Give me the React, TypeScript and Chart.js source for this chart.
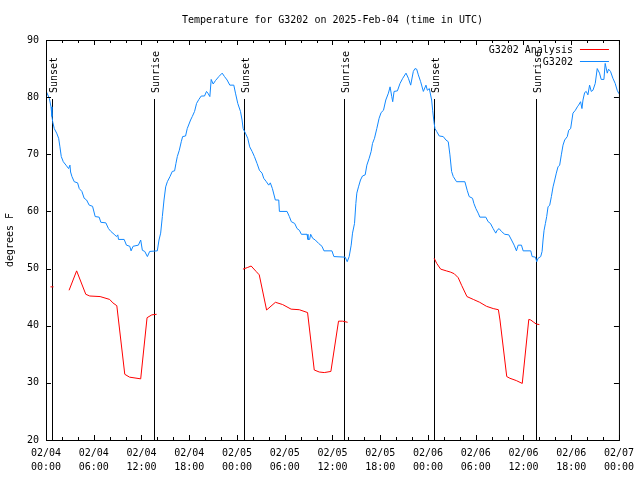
import React, { useEffect, useRef } from 'react';
import { Chart, registerables } from 'chart.js';

Chart.register(...registerables);

const FONT = '"DejaVu Sans Mono", "Liberation Mono", monospace';
const TITLE = 'Temperature for G3202 on 2025-Feb-04 (time in UTC)';
const Y_TITLE = 'degrees F';
const X_MIN = 0; // hours since 02/04 00:00 UTC
const X_MAX = 72;
const Y_MIN = 20;
const Y_MAX = 90;
const DAY_LABELS = ['02/04', '02/05', '02/06', '02/07'];

const OBS_LABEL = 'G3202';
const ANA_LABEL = 'G3202 Analysis';
const OBS_COLOR = 'rgb(16,136,255)';
const ANA_COLOR = '#ff0000';

// G3202 observations (hours since 02/04 00:00 UTC, deg F)
const obsHours = [
  0.0, 0.42, 0.63, 0.75, 0.84, 1.04, 1.34, 1.59, 1.75, 1.92, 2.17, 2.51, 2.84, 3.01, 3.09, 3.26, 3.55, 3.97,
  4.18, 4.51, 4.8, 5.1, 5.43, 5.85, 6.18, 6.68, 6.89, 7.52, 7.85, 8.15, 8.56, 8.86, 9.02, 9.11, 9.82, 10.11,
  10.53, 10.69, 10.94, 11.61, 11.9, 12.11, 12.41, 12.74, 13.03, 13.99, 14.2, 14.41, 14.62, 14.83, 15.04, 15.25,
  15.58, 15.87, 16.16, 16.33, 16.5, 16.75, 17.0, 17.17, 17.54, 17.75, 18.17, 18.38, 18.67, 18.92, 19.21, 19.51,
  19.92, 20.17, 20.34, 20.59, 20.76, 21.01, 21.3, 21.72, 22.14, 22.43, 22.76, 23.1, 23.6, 23.81, 24.1, 24.44,
  24.64, 24.77, 25.06, 25.35, 25.6, 25.9, 26.19, 26.52, 26.82, 27.15, 27.36, 27.69, 27.99, 28.19, 28.45, 28.82,
  29.25, 29.33, 30.29, 30.58, 30.83, 31.25, 31.55, 31.84, 32.09, 32.8, 32.92, 33.13, 33.26, 33.51, 33.84, 34.26,
  34.68, 34.93, 35.93, 36.18, 37.6, 37.85, 38.1, 38.35, 38.52, 38.77, 38.94, 39.06, 39.27, 39.52, 39.77, 40.11,
  40.32, 40.61, 40.86, 41.03, 41.28, 41.57, 41.86, 42.11, 42.41, 42.7, 43.03, 43.24, 43.45, 43.57, 43.74, 44.16,
  44.49, 44.83, 45.24, 45.54, 45.83, 46.16, 46.37, 46.58, 46.79, 47.08, 47.42, 47.75, 47.92, 48.17, 48.46, 48.59,
  48.75, 48.88, 49.09, 49.42, 49.92, 50.26, 50.55, 50.76, 50.97, 51.18, 51.59, 52.64, 52.93, 53.18, 53.6, 53.77,
  54.02, 54.31, 54.52, 55.27, 55.56, 55.85, 56.19, 56.52, 56.69, 56.94, 57.23, 57.65, 58.16, 58.5, 58.83, 59.12,
  59.33, 59.75, 59.96, 60.92, 61.09, 61.5, 61.67, 61.84, 62.17, 62.34, 62.46, 62.59, 62.76, 62.92, 63.09, 63.3,
  63.51, 63.72, 63.93, 64.13, 64.34, 64.55, 64.76, 64.97, 65.18, 65.51, 65.68, 65.93, 66.22, 66.52, 66.77, 66.93,
  67.18, 67.35, 67.48, 67.69, 67.89, 68.1, 68.31, 68.52, 68.73, 69.02, 69.27, 69.56, 69.77, 70.11, 70.27, 70.53,
  70.69, 70.94, 71.24, 71.53, 71.78, 72.0,
];
const obsTemps = [
  81.1, 79.8, 78.3, 76.6, 75.7, 74.5, 73.7, 72.8, 71.3, 69.6, 68.7, 68.1, 67.5, 68.1, 66.9, 66.1, 65.2, 65.0,
  64.0, 63.5, 62.3, 62.0, 61.1, 60.9, 59.1, 59.0, 58.1, 58.0, 57.0, 56.5, 56.0, 55.6, 55.9, 55.1, 55.1, 54.1,
  53.9, 53.1, 53.9, 54.1, 55.0, 53.2, 53.0, 52.1, 53.0, 53.1, 55.0, 56.2, 59.1, 62.0, 64.3, 65.2,
  66.1, 67.0, 67.1, 68.4, 69.6, 70.7, 72.2, 73.1, 73.2, 74.5, 76.0, 76.6, 77.5, 78.9, 79.6, 80.2,
  80.2, 81.0, 80.7, 80.1, 83.1, 82.3, 82.9, 83.6, 84.2, 83.6, 83.0, 82.1, 82.1, 80.7, 78.9, 77.5,
  76.0, 74.5, 73.7, 72.8, 71.3, 70.5, 69.6, 68.4, 67.2, 66.7, 65.8, 65.2, 64.6, 65.0, 64.0, 62.0,
  62.0, 60.0, 60.0, 59.1, 58.2, 57.9, 57.0, 56.7, 56.0, 56.0, 55.1, 55.1, 56.0, 55.3, 55.0, 54.4,
  53.9, 53.1, 53.1, 52.1, 52.0, 51.2, 52.1, 54.1, 56.2, 57.9, 61.4, 63.2, 64.3, 65.5, 66.2, 66.4,
  68.1, 69.3, 70.5, 71.9, 72.8, 74.5, 76.3, 77.3, 77.7, 79.5, 80.7, 81.8, 80.1, 79.2, 81.0, 81.1,
  82.4, 83.3, 84.2, 83.3, 82.1, 84.5, 85.0, 84.9, 83.9, 82.7, 81.0, 82.1, 81.2, 81.5, 79.5, 77.7,
  75.7, 74.5, 74.0, 73.2, 73.1, 72.5, 72.2, 69.9, 67.0, 66.1, 65.2, 65.2, 63.7, 62.6, 62.3, 61.4,
  60.5, 59.7, 59.0, 59.0, 58.2, 57.9, 57.0, 56.2, 56.7, 57.0, 56.5, 56.0, 55.9, 55.0, 54.1, 53.1,
  54.1, 54.1, 53.1, 53.1, 52.1, 52.0, 51.2, 51.8, 52.1, 53.0, 55.0, 56.7, 57.9, 59.1, 60.8, 61.1,
  62.6, 64.3, 65.5, 66.7, 67.8, 68.1, 69.9, 71.6, 72.5, 73.1, 74.2, 74.5, 77.2, 77.7, 78.3, 78.6,
  79.2, 78.0, 79.5, 80.8, 81.0, 80.4, 82.1, 81.0, 81.2, 82.4, 85.0, 84.2, 83.1, 83.1, 85.9, 84.2,
  84.9, 84.5, 83.3, 82.4, 81.2, 80.6,
];

// G3202 Analysis (null = gap)
const anaHours = [
  0.75, 1.8,
  2.9, 3.85, 5.0, 5.5, 6.8, 8.0, 8.4, 8.9, 9.9, 10.5, 11.9, 12.7, 13.3, 13.9, 19.0,
  24.75, 25.35, 25.78, 26.4, 26.8, 27.72, 28.83, 29.74, 30.8, 31.83, 32.87, 33.71, 34.34, 34.97, 35.8, 36.76,
  37.26, 37.9, 43.0,
  48.78, 49.1, 49.6, 50.3, 50.8, 51.3, 51.8, 52.25, 52.9, 53.7, 54.5, 55.35, 56.2, 56.85, 57.05, 57.9, 58.3,
  59.1, 59.85, 60.67, 60.92, 61.3, 61.6, 62.0,
];
const anaTemps = [
  46.8, null,
  46.2, 49.6, 45.5, 45.2, 45.1, 44.6, 44.0, 43.5, 31.5, 31.0, 30.7, 41.4, 41.9, 42.0, null,
  49.9, 50.2, 50.45, 49.5, 48.9, 42.75, 44.1, 43.7, 42.9, 42.8, 42.3, 32.25, 31.9, 31.8, 32.0, 40.8,
  40.8, 40.6, null,
  51.8, 50.9, 49.9, 49.6, 49.4, 49.1, 48.4, 47.0, 45.1, 44.6, 44.1, 43.4, 43.0, 42.8, 41.0, 31.1, 30.8,
  30.4, 29.9, 41.1, 41.0, 40.6, 40.3, 40.2,
];

const sunLabels = ['Sunset', 'Sunrise', 'Sunset', 'Sunrise', 'Sunset', 'Sunrise'];
const sunHours = [0.79, 13.57, 24.85, 37.51, 48.79, 61.57];

const pad2 = (n: number) => (n < 10 ? '0' + n : '' + n);

const decorPlugin = {
  id: 'decor',
  beforeDatasetsDraw(chart: any) {
    const { ctx, chartArea: a, scales } = chart;
    const x = scales.x;
    ctx.save();
    ctx.strokeStyle = '#000';
    ctx.lineWidth = 1;
    ctx.fillStyle = '#000';
    ctx.font = `10px ${FONT}`;
    sunHours.forEach((h, i) => {
      const px = Math.round(x.getPixelForValue(h)) + 0.5;
      ctx.beginPath();
      ctx.moveTo(px, a.top + 59);
      ctx.lineTo(px, a.bottom);
      ctx.stroke();
      ctx.save();
      ctx.translate(px + 1.5, a.top + 53);
      ctx.rotate(-Math.PI / 2);
      ctx.textAlign = 'left';
      ctx.textBaseline = 'middle';
      ctx.fillText(sunLabels[i], 0, 0);
      ctx.restore();
    });
    ctx.restore();
  },
  afterDraw(chart: any) {
    const { ctx, chartArea: a, scales } = chart;
    const x = scales.x;
    const y = scales.y;
    ctx.save();
    ctx.strokeStyle = '#000';
    ctx.lineWidth = 1;
    // frame
    ctx.strokeRect(a.left + 0.5, a.top + 0.5, a.right - a.left, a.bottom - a.top);
    // x ticks (major 6h, minor 2h), top and bottom, inward
    ctx.beginPath();
    for (let h = X_MIN; h <= X_MAX; h += 2) {
      const px = Math.round(x.getPixelForValue(h)) + 0.5;
      const len = h % 6 === 0 ? 5 : 3;
      ctx.moveTo(px, a.bottom);
      ctx.lineTo(px, a.bottom - len);
      ctx.moveTo(px, a.top);
      ctx.lineTo(px, a.top + len);
    }
    for (let v = Y_MIN; v <= Y_MAX; v += 10) {
      const py = Math.round(y.getPixelForValue(v)) + 0.5;
      ctx.moveTo(a.left, py);
      ctx.lineTo(a.left + 5, py);
      ctx.moveTo(a.right, py);
      ctx.lineTo(a.right - 5, py);
    }
    ctx.stroke();
    // title
    ctx.fillStyle = '#000';
    ctx.font = `10px ${FONT}`;
    ctx.textAlign = 'center';
    ctx.textBaseline = 'middle';
    ctx.fillText(TITLE, (a.left + a.right) / 2, 20);
    // legend (top right, inside plot)
    const rows = [chart.data.datasets[1], chart.data.datasets[0]];
    rows.forEach((ds: any, i: number) => {
      const ly = a.top + 10 + i * 12;
      ctx.textAlign = 'right';
      ctx.fillStyle = '#000';
      ctx.fillText(ds.label, a.right - 46, ly);
      ctx.strokeStyle = ds.borderColor;
      ctx.beginPath();
      ctx.moveTo(a.right - 39, Math.round(ly) - 0.5);
      ctx.lineTo(a.right - 10, Math.round(ly) - 0.5);
      ctx.stroke();
    });
    ctx.restore();
  },
};

export default function App() {
  const ref = useRef<HTMLCanvasElement | null>(null);

  useEffect(() => {
    document.body.style.margin = '0';
    const canvas = ref.current;
    if (!canvas) return;
    const obsData = obsHours.map((h, i) => ({ x: h, y: obsTemps[i] }));
    const anaData = anaHours.map((h, i) => ({ x: h, y: anaTemps[i] }));
    const isolated = (ctx: any) => {
      const d = ctx.dataset.data;
      const i = ctx.dataIndex;
      if (d[i] == null || d[i].y == null) return 0;
      const prev = i > 0 ? d[i - 1].y : null;
      const next = i < d.length - 1 ? d[i + 1].y : null;
      return prev == null && next == null ? 1.5 : 0;
    };
    const chart = new Chart(canvas, {
      type: 'line',
      data: {
        datasets: [
          {
            label: OBS_LABEL,
            data: obsData,
            borderColor: OBS_COLOR,
            backgroundColor: OBS_COLOR,
            borderWidth: 1,
            pointRadius: 0,
            tension: 0,
            fill: false,
          },
          {
            label: ANA_LABEL,
            data: anaData,
            borderColor: ANA_COLOR,
            backgroundColor: ANA_COLOR,
            borderWidth: 1,
            pointRadius: isolated,
            pointStyle: 'line',
            pointBorderColor: ANA_COLOR,
            pointBorderWidth: 1,
            tension: 0,
            fill: false,
            spanGaps: false,
          },
        ],
      },
      plugins: [decorPlugin],
      options: {
        responsive: false,
        animation: false,
        devicePixelRatio: 1,
        layout: { padding: { top: 40, right: 20, left: 0, bottom: 0 } },
        plugins: {
          legend: { display: false },
          title: { display: false },
          tooltip: { enabled: false },
        },
        scales: {
          x: {
            type: 'linear',
            min: X_MIN,
            max: X_MAX,
            grid: { display: false, drawTicks: false },
            border: { display: false },
            afterFit: (s: any) => {
              s.height = 40;
            },
            ticks: {
              stepSize: 6,
              autoSkip: false,
              maxRotation: 0,
              minRotation: 0,
              padding: 6,
              color: '#000',
              font: { family: FONT, size: 10, lineHeight: 1.4 },
              callback: (v: any) => {
                const n = Number(v);
                const day = Math.floor(n / 24);
                const hr = n - day * 24;
                return [DAY_LABELS[day], pad2(hr) + ':00'];
              },
            },
          },
          y: {
            type: 'linear',
            min: Y_MIN,
            max: Y_MAX,
            grid: { display: false, drawTicks: false },
            border: { display: false },
            afterFit: (s: any) => {
              s.width = 46;
            },
            title: {
              display: true,
              text: Y_TITLE,
              color: '#000',
              font: { family: FONT, size: 10, lineHeight: 1.2 },
              padding: { top: 4.5, bottom: 0 },
            },
            ticks: {
              stepSize: 10,
              padding: 7,
              color: '#000',
              font: { family: FONT, size: 10 },
            },
          },
        },
      },
    });
    return () => chart.destroy();
  }, []);

  return (
    <div style={{ width: 640, height: 480 }}>
      <canvas ref={ref} width={640} height={480} style={{ display: 'block', width: 640, height: 480 }} />
    </div>
  );
}
